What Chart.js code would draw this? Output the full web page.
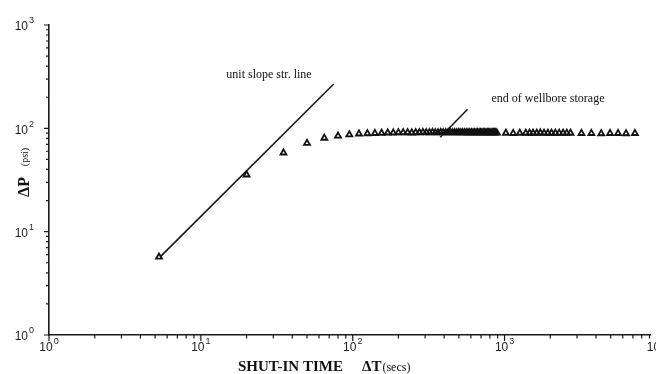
<!DOCTYPE html>
<html>
<head>
<meta charset="utf-8">
<script src="https://cdn.jsdelivr.net/npm/chart.js@4.4.0/dist/chart.umd.min.js"></script>
<style>
  html, body { margin: 0; padding: 0; background: #fff; }
  canvas { display: block; }
</style>
</head>
<body>
<canvas id="graph" width="656" height="374"></canvas>
<script>
// shut-in time (secs) and pressure change (psi)
const shutInTime = [
  5.3, 20, 35, 50, 65, 80, 95, 110, 125, 140, 155, 170, 185, 200, 215, 230, 245, 260, 275, 290,
  305, 320, 335, 350, 365, 380, 395, 410, 425, 440, 455, 470, 485, 500, 515, 530, 545, 560, 575, 590,
  605, 620, 635, 650, 665, 680, 695, 710, 725, 740, 755, 770, 785, 800, 815, 830, 845, 860, 875, 890,
  1020, 1140, 1260, 1380,
  1460, 1540, 1630, 1720, 1820, 1930, 2040, 2160, 2290, 2430, 2570, 2720,
  3210, 3730, 4330, 4950, 5590, 6310, 7220
];
const deltaP = [
  5.7, 35.5, 58, 72, 80.5, 84.5, 87, 88.5, 89, 89.5, 90, 90.5, 90.5, 91, 91, 91, 90.5, 91, 91, 91.5,
  91, 91, 91.5, 91, 91, 91.5, 91, 91, 91, 91.5, 91, 91, 91, 91.5, 91, 91, 91, 91, 91, 91,
  91, 91, 91, 91, 91, 91, 91, 91, 91, 91, 91, 91, 91, 91, 91, 91, 91, 91, 91, 90.5,
  90, 89.5, 90, 90,
  90, 90, 90, 90.5, 90, 90, 90, 90, 90, 90, 90, 90,
  89.5, 89.5, 89, 89.5, 89.5, 89, 89.5
];

// hand-drawn lines on the plot
const unitSlopeX = [5.4, 75];
const unitSlopeY = [5.7, 269];
const endStorageX = [377, 571];
const endStorageY = [82, 153];

const xTickLabels = ['0', '1', '2', '3', '4'];
const yTickLabels = ['0', '1', '2', '3'];

const canva = document.getElementById('graph');

function toPoints(xs, ys) {
  return xs.map((v, i) => ({ x: v, y: ys[i] }));
}

function isMajor(v) {
  const l = Math.log10(v);
  return Math.abs(l - Math.round(l)) < 1e-6;
}
function isNice(v) {
  const e = Math.pow(10, Math.floor(Math.log10(v) + 1e-9));
  const m = v / e;
  return Math.abs(m - Math.round(m)) < 1e-6;
}

function drawPow(ctx, exp, x, y, align) {
  ctx.font = '12px "Liberation Sans"';
  const w1 = ctx.measureText('10').width;
  ctx.font = '9px "Liberation Sans"';
  const w2 = ctx.measureText(exp).width + 1;
  let left = align === 'right' ? x - w1 - w2 : x - (w1 + w2) / 2;
  ctx.textAlign = 'left';
  ctx.textBaseline = 'middle';
  ctx.font = '12px "Liberation Sans"';
  ctx.fillText('10', left, y);
  ctx.font = '9px "Liberation Sans"';
  ctx.fillText(exp, left + w1 + 1, y - 6);
}

const decor = {
  id: 'decor',
  afterDraw(chart) {
    const { ctx, scales: { x, y } } = chart;
    ctx.save();
    ctx.strokeStyle = '#1a1a1a';
    ctx.lineWidth = 1.2;
    ctx.beginPath();
    x.ticks.forEach(t => {
      if (!isNice(t.value)) return;
      const px = x.getPixelForValue(t.value);
      ctx.moveTo(px, y.bottom);
      ctx.lineTo(px, y.bottom + (isMajor(t.value) ? 6 : 3.5));
    });
    y.ticks.forEach(t => {
      if (!isNice(t.value)) return;
      const py = y.getPixelForValue(t.value);
      ctx.moveTo(x.left, py);
      ctx.lineTo(x.left - (isMajor(t.value) ? 5 : 3), py);
    });
    ctx.stroke();

    ctx.fillStyle = '#222';
    xTickLabels.forEach(e => {
      drawPow(ctx, e, x.getPixelForValue(Math.pow(10, +e)), y.bottom + 13, 'center');
    });
    yTickLabels.forEach(e => {
      drawPow(ctx, e, x.left - 15, y.getPixelForValue(Math.pow(10, +e)) + 2, 'right');
    });

    // axis titles
    ctx.fillStyle = '#111';
    ctx.textBaseline = 'alphabetic';
    ctx.textAlign = 'left';
    ctx.font = 'bold 15px "Liberation Serif"';
    ctx.fillText('SHUT-IN TIME', 238, 371);
    ctx.fillText('\u0394T', 362, 371);
    const wT = ctx.measureText('\u0394T').width;
    ctx.font = '12px "Liberation Serif"';
    ctx.fillText('(secs)', 362 + wT + 1, 371);

    ctx.save();
    ctx.translate(29, 187);
    ctx.rotate(-Math.PI / 2);
    ctx.textAlign = 'center';
    ctx.font = 'bold 16px "Liberation Serif"';
    ctx.fillText('\u0394P', 0, 0);
    ctx.font = '10px "Liberation Serif"';
    ctx.fillText('(psi)', 30, -1);
    ctx.restore();

    // annotations
    ctx.textAlign = 'center';
    ctx.textBaseline = 'middle';
    ctx.font = '12px "Liberation Serif"';
    ctx.fillText('unit slope str. line', 269, 75);
    ctx.fillText('end of wellbore storage', 548, 99);
    ctx.restore();
  }
};

const data = {
  datasets: [{
    label: 'dP',
    data: toPoints(shutInTime, deltaP),
    showLine: false,
    pointStyle: 'triangle',
    pointRadius: 3.4,
    pointBorderWidth: 1.8,
    pointBorderColor: '#111',
    pointBackgroundColor: 'rgba(255,255,255,0)'
  }, {
    label: 'unit slope',
    data: toPoints(unitSlopeX, unitSlopeY),
    showLine: true,
    borderColor: '#111',
    borderWidth: 1.5,
    pointRadius: 0
  }, {
    label: 'end of storage',
    data: toPoints(endStorageX, endStorageY),
    showLine: true,
    borderColor: '#111',
    borderWidth: 1.5,
    pointRadius: 0
  }]
};

const config = {
  type: 'scatter',
  data,
  options: {
    responsive: false,
    animation: false,
    layout: { padding: { left: 49, top: 25, right: 1, bottom: 39 } },
    plugins: { legend: { display: false }, tooltip: { enabled: false } },
    scales: {
      x: {
        type: 'logarithmic',
        bounds: 'data',
        min: 1,
        max: 9100,
        grid: { display: false, drawTicks: false },
        border: { color: '#1a1a1a', width: 1.6 },
        ticks: { display: false }
      },
      y: {
        type: 'logarithmic',
        bounds: 'data',
        min: 1,
        max: 1000,
        grid: { display: false, drawTicks: false },
        border: { color: '#1a1a1a', width: 1.6 },
        ticks: { display: false }
      }
    }
  },
  plugins: [decor]
};

var chart = new Chart(canva, config);
</script>
</body>
</html>
